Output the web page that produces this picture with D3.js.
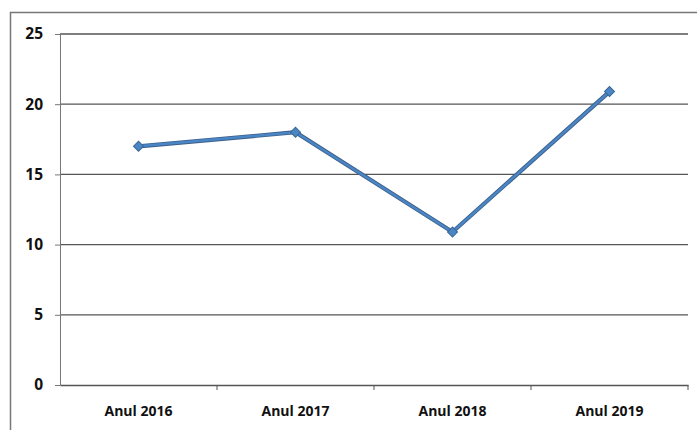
<!DOCTYPE html>
<html>
<head>
<meta charset="utf-8">
<script src="https://cdn.jsdelivr.net/npm/d3@7"></script>
<style>
  body { margin: 0; background: #fff; }
  svg text { font-family: "Open Sans", "Liberation Sans", Arial, sans-serif; font-weight: bold; fill: #111; }
</style>
</head>
<body>
<div id="chart"></div>
<script>
var years = ["Anul 2016", "Anul 2017", "Anul 2018", "Anul 2019"];
var values = [17, 18, 10.9, 20.9];
var yTicks = [0, 5, 10, 15, 20, 25];

var W = 697, H = 430;
var margin = {top: 34, right: 9, bottom: 45, left: 60},
    width = W - margin.left - margin.right,
    height = H - margin.top - margin.bottom;

var root = d3.select("#chart").append("svg")
    .attr("width", W)
    .attr("height", H);

// outer chart frame (runs past the right and bottom of the picture)
root.append("rect")
    .attr("x", 10.5).attr("y", 12.5)
    .attr("width", 720).attr("height", 440)
    .attr("fill", "none")
    .attr("stroke", "#777")
    .attr("stroke-width", 1.5);

var svg = root.append("g")
    .attr("transform", "translate(" + margin.left + "," + margin.top + ")");

var xScale = d3.scaleBand().domain(years).range([0, width]);
var yScale = d3.scaleLinear().domain([0, 25]).range([height, 0]);

// gridlines
svg.append("g")
   .selectAll("line")
   .data(yTicks.filter(d => d > 0))
   .enter()
   .append("line")
   .attr("x1", 0).attr("x2", width)
   .attr("y1", d => yScale(d)).attr("y2", d => yScale(d))
   .attr("stroke", "#555")
   .attr("stroke-width", 1.3);

var yAxis = svg.append("g")
   .call(d3.axisLeft(yScale).tickValues(yTicks).tickSize(5).tickPadding(12).tickSizeOuter(0));
yAxis.select(".domain").attr("stroke", "#777");
yAxis.selectAll(".tick line").attr("stroke", "#777");
yAxis.selectAll("text").style("font-size", "15.5px");

var xAxis = svg.append("g")
   .attr("transform", "translate(0," + height + ")")
   .call(d3.axisBottom(xScale).tickSize(0).tickPadding(21).tickSizeOuter(0));
xAxis.select(".domain").attr("stroke", "#555").attr("stroke-width", 1.3);
xAxis.selectAll("text").style("font-size", "14px");

// tick marks between categories
svg.append("g")
   .selectAll("line")
   .data(years)
   .enter()
   .append("line")
   .attr("x1", d => xScale(d) + xScale.bandwidth())
   .attr("x2", d => xScale(d) + xScale.bandwidth())
   .attr("y1", height).attr("y2", height + 5)
   .attr("stroke", "#555");

var cx = d => xScale(d) + xScale.bandwidth() / 2;
var pts = years.map((d, i) => [cx(d), yScale(values[i])]);

svg.append("path")
   .datum(pts)
   .attr("fill", "none")
   .attr("stroke", "#3d5f8a")
   .attr("stroke-width", 4.2)
   .attr("d", d3.line());
svg.append("path")
   .datum(pts)
   .attr("fill", "none")
   .attr("stroke", "#4a86c5")
   .attr("stroke-width", 2.4)
   .attr("d", d3.line());

svg.append("g")
   .selectAll("path")
   .data(pts)
   .enter()
   .append("path")
   .attr("d", d3.symbol().type(d3.symbolSquare).size(50))
   .attr("transform", d => "translate(" + d[0] + "," + d[1] + ") rotate(45)")
   .attr("fill", "#4a86c5")
   .attr("stroke", "#3b6794")
   .attr("stroke-width", 1);
</script>
</body>
</html>
